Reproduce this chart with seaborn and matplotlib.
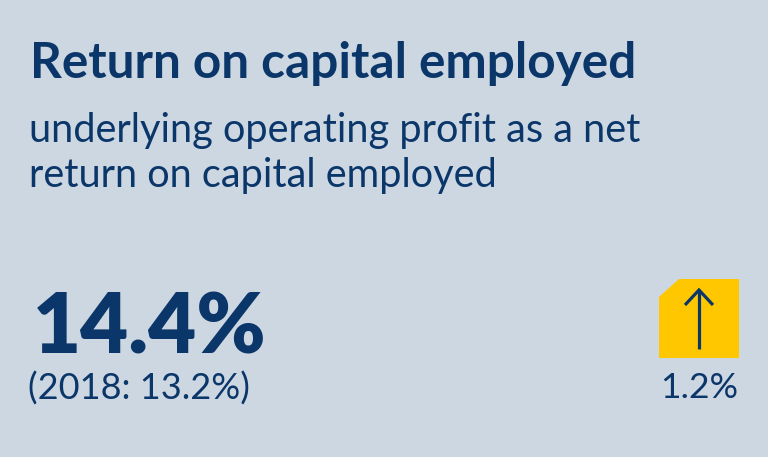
import matplotlib
matplotlib.use("Agg")
import matplotlib.pyplot as plt
import seaborn as sns
from matplotlib.patches import Polygon

# data
title = "Return on capital employed"
subtitle = ["underlying operating profit as a net", "return on capital employed"]
value_now = 14.4
value_prev = 13.2
prev_year = 2018
change = 1.2

navy = "#0b3669"
bg = "#cdd7e1"
yellow = "#ffc700"

sns.set_theme(style="white", rc={"figure.facecolor": bg, "axes.facecolor": bg})
plt.rcParams['font.family'] = ['Lato', 'DejaVu Sans']

fig = plt.figure(figsize=(7.68, 4.57), dpi=100)
ax = fig.add_axes([0, 0, 1, 1])
ax.set_xlim(0, 768)
ax.set_ylim(457, 0)
ax.axis("off")
renderer = fig.canvas.get_renderer()


def fit_text(x, y, s, width, weight, ha="left", size=30):
    t = ax.text(x, y, s, fontsize=size, fontweight=weight, color=navy,
                ha=ha, va="baseline")
    w = t.get_window_extent(renderer).width
    t.set_fontsize(size * width / w)
    return t


fit_text(30, 78, title, 606, "bold")
sub = fit_text(29, 142, subtitle[0], 613, "normal")
ax.text(29, 187, subtitle[1], fontsize=sub.get_fontsize(), color=navy,
        ha="left", va="baseline")
fit_text(33, 353, f"{value_now}%", 234, "heavy")
fit_text(28, 400, f"({prev_year}: {value_prev}%)", 222, "normal")
fit_text(738, 398, f"{change}%", 78, "normal", ha="right")

# yellow tag with arrow
ax.add_patch(Polygon([(659, 297), (679, 279), (739, 279), (739, 358), (659, 358)],
                     closed=True, facecolor=yellow, edgecolor="none"))
ax.plot([699, 699], [349, 291], color=navy, lw=2.3, solid_capstyle="butt")
ax.plot([685, 699, 713], [305, 290, 305], color=navy, lw=2.3,
        solid_joinstyle="miter", solid_capstyle="butt")

fig.savefig("out.png", dpi=100, facecolor=bg)
